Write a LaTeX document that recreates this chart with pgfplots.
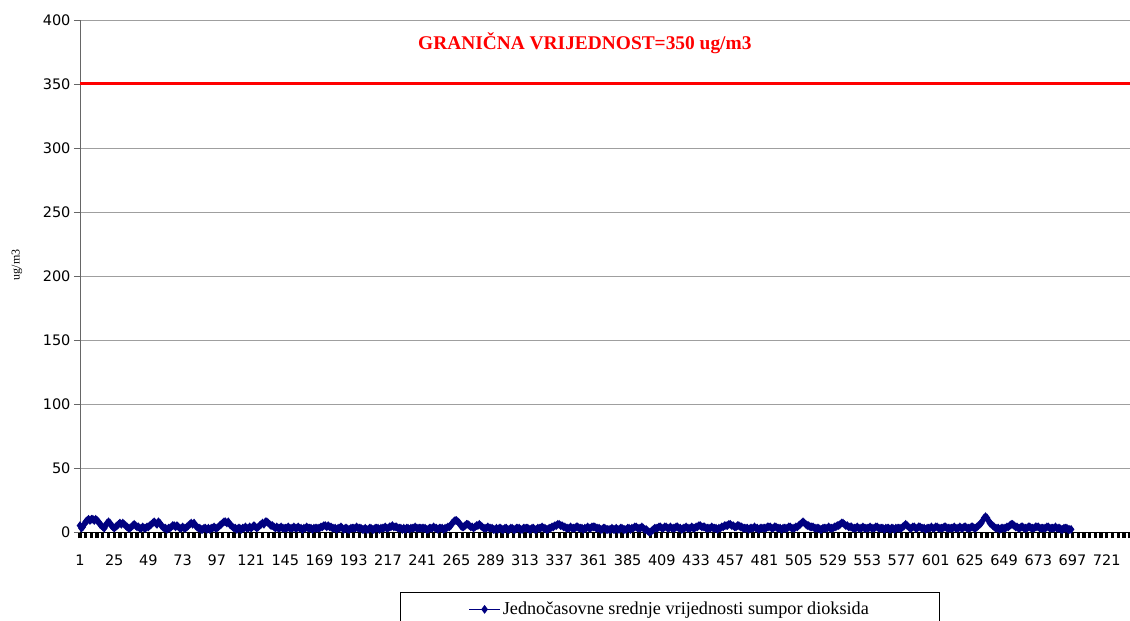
\documentclass[border=0pt]{standalone}
\usepackage{fontspec}
\setmainfont{Liberation Serif}
\newfontfamily\tickfont{DejaVu Sans}
\usepackage{pgfplots}
\usepackage{pgfplotstable}
\pgfplotsset{compat=1.18}
\definecolor{navyblue}{RGB}{0,0,128}
\pgfplotstableread[row sep=\\]{
y\\
5\\3\\4\\6\\8\\9\\10\\9\\10\\10\\9\\10\\9\\8\\6\\5\\4\\3\\5\\7\\8\\7\\5\\4\\
3\\4\\5\\6\\7\\6\\7\\6\\5\\4\\3\\3\\4\\5\\6\\5\\4\\4\\3\\3\\4\\3\\3\\4\\
4\\5\\6\\7\\8\\7\\6\\8\\7\\5\\4\\3\\3\\2\\3\\3\\4\\5\\5\\4\\5\\4\\3\\3\\
4\\3\\3\\4\\5\\6\\7\\6\\7\\5\\4\\3\\3\\2\\2\\3\\3\\2\\3\\2\\3\\3\\4\\3\\
3\\4\\5\\6\\7\\8\\8\\7\\8\\6\\5\\4\\3\\3\\2\\3\\3\\2\\3\\3\\4\\3\\3\\4\\
3\\4\\5\\4\\3\\4\\5\\6\\7\\6\\8\\8\\7\\6\\5\\5\\4\\3\\4\\3\\3\\4\\3\\3\\
3\\3\\4\\3\\3\\3\\4\\3\\3\\4\\3\\3\\2\\3\\3\\4\\3\\3\\3\\2\\3\\3\\3\\3\\
3\\4\\4\\5\\5\\4\\5\\4\\4\\3\\3\\3\\2\\3\\3\\4\\3\\2\\3\\3\\2\\2\\3\\3\\
3\\3\\4\\3\\3\\3\\2\\2\\3\\2\\2\\3\\3\\2\\2\\3\\3\\3\\2\\3\\3\\3\\4\\3\\
3\\4\\4\\5\\4\\4\\4\\3\\3\\3\\2\\3\\2\\3\\3\\2\\3\\3\\3\\4\\3\\3\\3\\3\\
3\\3\\3\\2\\2\\3\\3\\3\\4\\3\\3\\2\\3\\3\\3\\2\\3\\3\\4\\4\\5\\7\\8\\9\\
9\\8\\7\\5\\4\\4\\5\\6\\6\\5\\4\\4\\3\\4\\5\\5\\6\\5\\4\\3\\3\\3\\4\\3\\
3\\3\\2\\2\\3\\2\\3\\3\\2\\2\\3\\3\\2\\2\\3\\3\\2\\2\\3\\3\\3\\2\\2\\3\\
3\\3\\3\\2\\2\\3\\3\\2\\2\\3\\3\\3\\4\\3\\3\\2\\2\\3\\3\\4\\4\\5\\5\\6\\
6\\5\\5\\4\\4\\3\\3\\3\\4\\3\\3\\3\\4\\4\\3\\3\\3\\2\\3\\3\\4\\3\\3\\4\\
4\\4\\3\\3\\3\\2\\2\\3\\3\\2\\2\\2\\2\\3\\2\\2\\3\\2\\2\\3\\3\\2\\2\\2\\
3\\3\\2\\3\\3\\4\\4\\3\\3\\3\\4\\3\\2\\2\\1\\0\\0\\1\\2\\3\\3\\3\\4\\4\\
3\\3\\4\\4\\3\\3\\4\\3\\3\\3\\4\\4\\3\\3\\2\\3\\3\\4\\3\\3\\3\\4\\3\\3\\
4\\4\\5\\5\\4\\4\\4\\3\\3\\3\\3\\4\\3\\3\\3\\2\\3\\3\\4\\4\\5\\5\\5\\6\\
6\\5\\5\\4\\4\\5\\5\\4\\4\\3\\3\\3\\3\\2\\3\\3\\3\\4\\3\\3\\2\\3\\3\\3\\
3\\3\\4\\4\\4\\3\\3\\4\\4\\3\\3\\3\\2\\3\\3\\3\\3\\4\\4\\3\\3\\3\\4\\4\\
5\\6\\7\\8\\7\\6\\5\\5\\4\\4\\4\\3\\3\\3\\3\\2\\2\\3\\3\\3\\3\\4\\3\\3\\
3\\4\\4\\5\\5\\6\\7\\7\\6\\5\\5\\4\\4\\4\\3\\3\\3\\4\\3\\3\\3\\4\\3\\3\\
3\\3\\4\\3\\3\\3\\4\\4\\3\\3\\3\\3\\2\\3\\3\\3\\2\\3\\3\\2\\3\\3\\3\\3\\
3\\4\\5\\6\\5\\4\\3\\3\\4\\4\\3\\3\\4\\4\\3\\3\\3\\2\\3\\3\\3\\4\\3\\3\\
4\\4\\3\\3\\3\\3\\4\\4\\3\\3\\3\\3\\3\\4\\3\\3\\3\\4\\3\\3\\4\\4\\3\\3\\
3\\4\\4\\3\\3\\4\\5\\6\\7\\9\\11\\12\\11\\9\\7\\6\\5\\4\\3\\3\\3\\2\\3\\3\\
3\\3\\4\\4\\5\\6\\6\\5\\4\\4\\3\\3\\4\\4\\3\\3\\3\\4\\4\\3\\3\\3\\4\\4\\
4\\3\\3\\3\\3\\3\\4\\4\\3\\3\\3\\3\\4\\3\\3\\3\\2\\2\\3\\3\\3\\2\\2\\2\\
}\sodata
\begin{document}
\begin{tikzpicture}
\begin{axis}[
  scale only axis,
  width=1050pt, height=512pt,
  xmin=1, xmax=737.3,
  ymin=0, ymax=400,
  ytick={0,50,...,400},
  xtick={1,25,...,721},
  minor xtick={1,5,...,737},
  axis x line*=bottom,
  axis y line*=left,
  x axis line style={black, line width=0.8pt},
  y axis line style={gray!80!black, line width=0.8pt},
  tick align=outside,
  x tick style={black, line width=3.3pt},
  major tick length=6pt,
  minor tick length=6pt,
  y tick style={gray!80!black, line width=0.8pt},
  ymajorgrids,
  major grid style={gray!75, line width=0.9pt},
  tick label style={font=\tickfont\fontsize{14.5}{16}\selectfont},
  /pgf/number format/assume math mode=true,
  xticklabel style={yshift=-13pt},
  ylabel={ug/m3},
  ylabel style={at={(axis description cs:-0.06,0.5215)}, anchor=center, font=\fontsize{12}{13}\selectfont},
  clip=false,
  legend style={at={(axis description cs:0.5615,0)}, anchor=north, yshift=-60pt,
    draw=black, line width=0.6pt, inner xsep=68.5pt, inner ysep=8pt,
    font=\fontsize{18.2}{20}\selectfont},
  legend cell align=left,
  legend image code/.code={\draw[#1, mark repeat=2, mark phase=2] plot coordinates {(0pt,0pt) (15.5pt,0pt) (31pt,0pt)};},
]
\addplot[red, line width=3pt, forget plot] coordinates {(1,350) (737.3,350)};
\addplot[navyblue, line width=1.5pt, mark=diamond*, mark size=3.2pt,
  mark options={solid, fill=navyblue}]
  table[x expr=\coordindex+1, y=y] {\sodata};
\addlegendentry{Jednočasovne srednje vrijednosti sumpor dioksida}
\node[red, font=\bfseries\fontsize{19.4}{21}\selectfont] at (axis cs:355,382) {GRANIČNA VRIJEDNOST=350 ug/m3};
\end{axis}
\pgfresetboundingbox
\path (-80pt,-89pt) rectangle (1050pt,532pt);
\end{tikzpicture}
\end{document}
